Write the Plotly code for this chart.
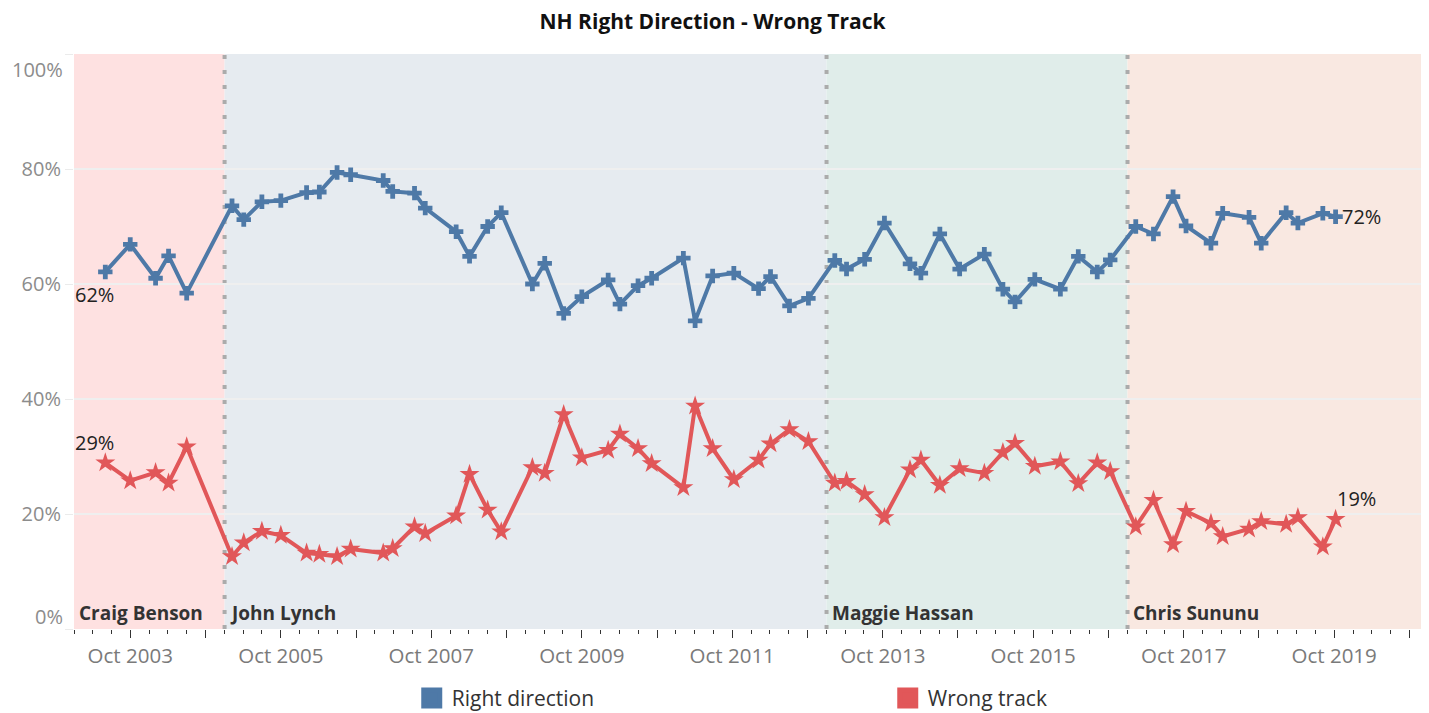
import plotly.graph_objects as go

# ---------------- data ----------------
dates = ["2003-06-02", "2003-10-01", "2004-02-01", "2004-04-04", "2004-07-01",
         "2005-02-06", "2005-04-04", "2005-07-01", "2005-10-01", "2006-02-03",
         "2006-04-06", "2006-07-01", "2006-09-05", "2007-02-10", "2007-03-28",
         "2007-07-12", "2007-09-02", "2008-01-30", "2008-04-04", "2008-07-01",
         "2008-09-05", "2009-02-03", "2009-04-04", "2009-07-05", "2009-10-01",
         "2010-02-06", "2010-04-04", "2010-07-01", "2010-09-05", "2011-02-06",
         "2011-04-04", "2011-06-28", "2011-10-09", "2012-02-06", "2012-04-04",
         "2012-07-05", "2012-10-05", "2013-02-10", "2013-04-08", "2013-07-05",
         "2013-10-09", "2014-02-10", "2014-04-04", "2014-07-05", "2014-10-09",
         "2015-02-06", "2015-05-07", "2015-07-05", "2015-10-09", "2016-02-10",
         "2016-05-07", "2016-08-07", "2016-10-09", "2017-02-10", "2017-05-07",
         "2017-08-10", "2017-10-12", "2018-02-10", "2018-04-08", "2018-08-14",
         "2018-10-12", "2019-02-10", "2019-04-08", "2019-08-07", "2019-10-08"]

right_direction = [62.1, 66.9, 61.0, 64.9, 58.4, 73.6, 71.2, 74.3, 74.5, 75.9,
                   76.0, 79.4, 79.0, 78.0, 76.1, 75.8, 73.2, 69.1, 64.8, 70.0,
                   72.4, 60.0, 63.6, 54.9, 57.8, 60.7, 56.5, 59.7, 61.0, 64.5,
                   53.6, 61.4, 61.9, 59.2, 61.3, 56.2, 57.5, 64.1, 62.6, 64.3,
                   70.6, 63.5, 61.9, 68.7, 62.6, 65.2, 59.1, 56.9, 60.8, 59.1,
                   64.8, 62.1, 64.2, 70.0, 68.7, 75.2, 70.1, 67.1, 72.3, 71.6,
                   67.1, 72.4, 70.6, 72.3, 71.7]

wrong_track = [28.9, 25.8, 27.2, 25.4, 31.7, 12.6, 15.0, 17.0, 16.3, 13.2,
               13.0, 12.6, 13.9, 13.2, 14.0, 17.8, 16.6, 19.7, 26.9, 20.7,
               16.9, 28.1, 27.1, 37.3, 29.8, 31.1, 33.9, 31.4, 28.8, 24.6,
               38.8, 31.4, 26.0, 29.4, 32.2, 34.7, 32.6, 25.4, 25.7, 23.4,
               19.4, 27.7, 29.4, 25.0, 27.9, 27.1, 30.7, 32.3, 28.3, 29.1,
               25.3, 28.9, 27.4, 17.8, 22.4, 14.7, 20.5, 18.4, 16.1, 17.4,
               18.7, 18.2, 19.4, 14.3, 19.1]

governors = ["Craig Benson", "John Lynch", "Maggie Hassan", "Chris Sununu"]
gov_start = ["2003-01-01", "2005-01-01", "2013-01-01", "2017-01-01"]
gov_end = ["2005-01-01", "2013-01-01", "2017-01-01", "2021-01-01"]
gov_colors = ["#FEE1E1", "#E6EBF0", "#E0EDEA", "#F9E8E1"]

tick_years = list(range(2003, 2021))
tick_vals = [f"{y}-10-01" for y in tick_years]
tick_text = [f"Oct {y}" if y % 2 == 1 else "" for y in tick_years]

y_vals = [0, 20, 40, 60, 80, 100]

BLUE = "#4E79A7"
RED = "#E15759"
FONT = "Open Sans"

# page body has an 8px margin: figure is sized so the plot lands where the original is
W, H = 1421, 705

# ---------------- figure ----------------
fig = go.Figure()

for name, s, e, c in zip(governors, gov_start, gov_end, gov_colors):
    fig.add_shape(type="rect", xref="x", yref="paper", x0=s, x1=e, y0=0, y1=1,
                  fillcolor=c, line=dict(width=0), layer="below")
    fig.add_annotation(x=s, y=0, xref="x", yref="y", text=f"<b>{name}</b>",
                       showarrow=False, xanchor="left", yanchor="bottom",
                       xshift=3, yshift=1,
                       font=dict(family=FONT, size=19, color="#333333"))

for s in gov_start[1:]:
    fig.add_shape(type="line", xref="x", yref="paper", x0=s, x1=s, y0=0, y1=1,
                  line=dict(color="#ABABAB", width=4, dash="4px,11px"),
                  layer="between")

fig.add_trace(go.Scatter(
    x=dates, y=right_direction, mode="lines+markers", name="Right direction",
    line=dict(color=BLUE, width=4),
    marker=dict(symbol="cross", size=12, color=BLUE),
    showlegend=False))
fig.add_trace(go.Scatter(
    x=dates, y=wrong_track, mode="lines+markers", name="Wrong track",
    line=dict(color=RED, width=4),
    marker=dict(symbol="star", size=15, color=RED),
    showlegend=False))

# legend entries
fig.add_trace(go.Scatter(x=[None], y=[None], mode="markers", name="Right direction",
                         marker=dict(symbol="square", size=16, color=BLUE,
                                     line=dict(color=BLUE, width=5))))
fig.add_trace(go.Scatter(x=[None], y=[None], mode="markers", name="Wrong track",
                         marker=dict(symbol="square", size=16, color=RED,
                                     line=dict(color=RED, width=5))))

# end labels
lab_font = dict(family=FONT, size=20, color="#222222")
fig.add_annotation(x=dates[0], y=right_direction[0], text=f"{round(right_direction[0])}%",
                   showarrow=False, xshift=-11, yshift=-23, font=lab_font)
fig.add_annotation(x=dates[0], y=wrong_track[0], text=f"{round(wrong_track[0])}%",
                   showarrow=False, xshift=-11, yshift=20, font=lab_font)
fig.add_annotation(x=dates[-1], y=right_direction[-1], text=f"{round(right_direction[-1])}%",
                   showarrow=False, xshift=26, yshift=0, font=lab_font)
fig.add_annotation(x=dates[-1], y=wrong_track[-1], text=f"{round(wrong_track[-1])}%",
                   showarrow=False, xshift=21, yshift=21, font=lab_font)

# edge y-axis labels (shifted inward like the original)
ax_font = dict(family=FONT, size=20, color="#8C8C8C")
fig.add_annotation(x=0, xref="paper", y=y_vals[0], yref="y", text=f"{y_vals[0]}%",
                   showarrow=False, xanchor="right", xshift=-9, yshift=13, font=ax_font)
fig.add_annotation(x=0, xref="paper", y=y_vals[-1], yref="y", text=f"{y_vals[-1]}%",
                   showarrow=False, xanchor="right", xshift=-9, yshift=-15, font=ax_font)

fig.update_layout(
    width=W, height=H,
    margin=dict(l=66, r=4, t=46, b=84, autoexpand=False),
    paper_bgcolor="white", plot_bgcolor="white",
    title=dict(text="<b>NH Right Direction - Wrong Track</b>", x=704.5 / W, xref="container",
               xanchor="center", y=1 - 14 / H, yanchor="middle",
               font=dict(family=FONT, size=21, color="#111111")),
    font=dict(family=FONT),
    showlegend=True,
    legend=dict(orientation="h", x=0.25, xanchor="left", y=-0.1205, yanchor="middle",
                entrywidth=431, entrywidthmode="pixels",
                font=dict(family=FONT, size=21, color="#333333"),
                bgcolor="rgba(0,0,0,0)"),
    xaxis=dict(type="date", range=["2003-01-01", "2020-12-15"], automargin=False,
               tickmode="array", tickvals=tick_vals, ticktext=tick_text,
               ticks="outside", ticklen=8, tickwidth=1, tickcolor="#333333",
               tickfont=dict(family=FONT, size=20.5, color="#7A7A7A"),
               minor=dict(ticks="outside", ticklen=4, tickwidth=1, tickcolor="#333333",
                          dtick="M3", tick0="2003-01-01", showgrid=False),
               showgrid=False, zeroline=False, showline=False),
    yaxis=dict(range=[0, 100], tickmode="array", tickvals=y_vals, automargin=False,
               ticktext=[""] + [f"{v}%" for v in y_vals[1:-1]] + [""],
               ticks="outside", ticklen=8, tickcolor="#EBEBEB",
               showgrid=True, gridcolor="#EFEFEF", gridwidth=1.5,
               tickfont=ax_font, zeroline=False, showline=False),
)

fig.write_html("out.html")
